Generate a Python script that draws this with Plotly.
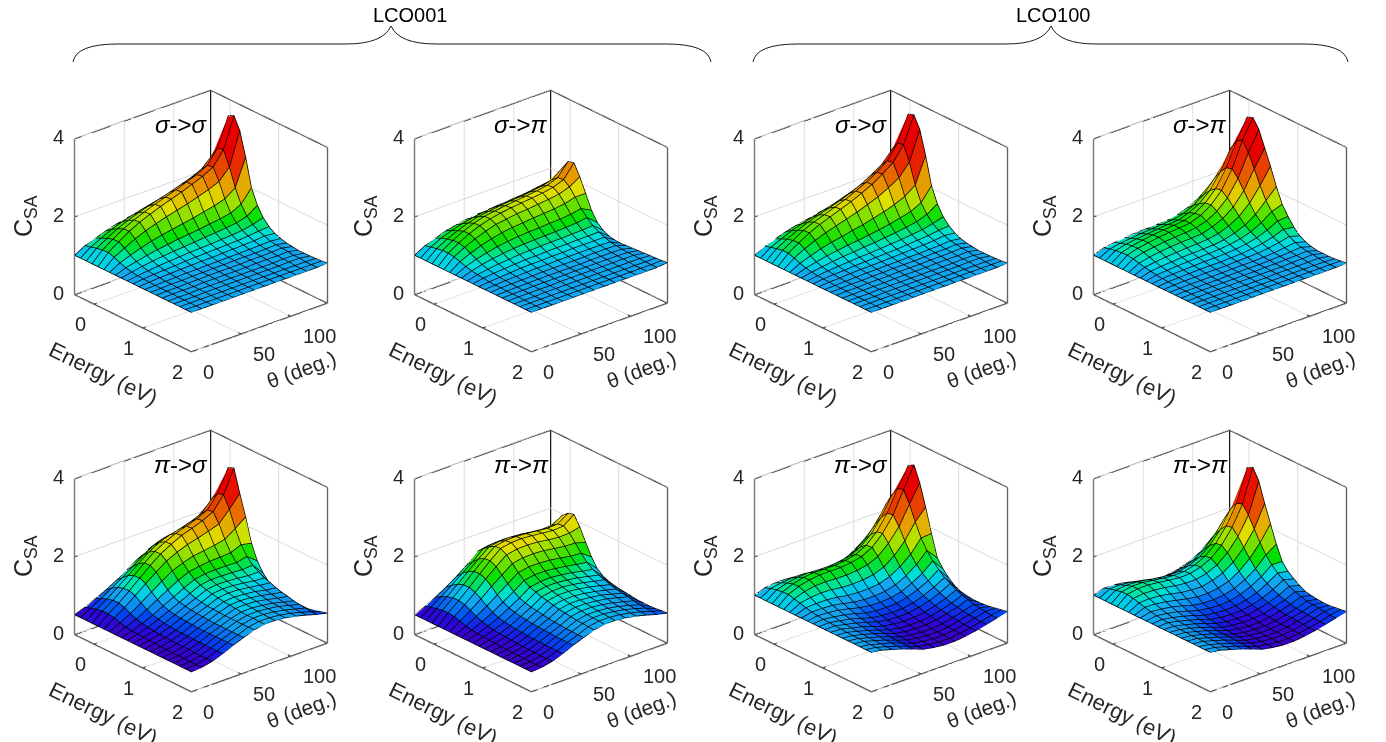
import plotly.graph_objects as go

W, H = 1386, 742
ENERGY = [-0.40,-0.28,-0.16,-0.04,0.08,0.20,0.32,0.44,0.56,0.68,0.80,0.92,1.04,1.16,1.28,1.40,1.52,1.64,1.76,1.88,2.00]
THETA = [0,10.5,21,31.6,42.2,52.7,63.2,73.8,84.3,94.8,105.4,116,126.5,137]
E_TICKS = [0,1,2]
T_TICKS = [0,50,100]
Z_TICKS = [0,2,4]

SS_001 = [
[1.0]*21,
[1.15,1.19,1.23,1.26,1.27,1.22,1.15,1.1,1.06,1.04,1.03,1.02,1.01,1.01,1.01,1.01,1,1,1,1,1],
[1.25,1.32,1.39,1.44,1.45,1.36,1.25,1.16,1.11,1.07,1.05,1.04,1.02,1.02,1.01,1.01,1,1,1,1,1],
[1.34,1.45,1.54,1.61,1.62,1.5,1.34,1.22,1.15,1.1,1.07,1.05,1.03,1.02,1.02,1.01,1.01,1.01,1,1,1],
[1.42,1.55,1.66,1.74,1.76,1.61,1.42,1.27,1.18,1.12,1.08,1.06,1.04,1.03,1.02,1.02,1.01,1.01,1,1,1],
[1.48,1.63,1.76,1.85,1.87,1.7,1.48,1.31,1.21,1.14,1.1,1.07,1.04,1.03,1.03,1.02,1.01,1.01,1,1,1],
[1.53,1.7,1.84,1.95,1.97,1.78,1.53,1.35,1.23,1.16,1.11,1.08,1.05,1.04,1.03,1.02,1.01,1.01,1,1,1],
[1.58,1.76,1.92,2.04,2.06,1.85,1.58,1.38,1.25,1.17,1.12,1.08,1.05,1.04,1.03,1.02,1.01,1.01,1,1,1],
[1.63,1.83,2.0,2.13,2.15,1.92,1.63,1.41,1.28,1.18,1.13,1.09,1.06,1.05,1.03,1.02,1.01,1.01,1,1,1],
[1.69,1.9,2.09,2.23,2.25,2.0,1.69,1.45,1.3,1.2,1.14,1.1,1.06,1.05,1.04,1.03,1.01,1.01,1,1,1],
[1.75,1.98,2.18,2.33,2.36,2.09,1.75,1.49,1.33,1.22,1.15,1.11,1.07,1.05,1.04,1.03,1.01,1.01,1,1,1],
[1.83,2.08,2.3,2.47,2.5,2.2,1.83,1.54,1.36,1.24,1.17,1.12,1.08,1.06,1.05,1.03,1.02,1.02,1,1,1],
[1.85,2.2,2.55,2.82,2.85,2.48,2.02,1.67,1.44,1.3,1.2,1.15,1.09,1.07,1.06,1.04,1.02,1.02,1,1,1],
[2.1,2.5,3.0,3.55,3.63,3.32,2.71,2.0,1.62,1.38,1.22,1.12,1.06,1.02,1.0,0.98,0.98,0.98,0.99,1.0,1.02],
]
SP_001 = [
[1.0]*21,
[1.15,1.19,1.22,1.25,1.25,1.23,1.18,1.13,1.09,1.07,1.05,1.03,1.02,1.02,1.01,1.01,1.01,1,1,1,1],
[1.25,1.32,1.37,1.41,1.42,1.38,1.3,1.22,1.16,1.11,1.08,1.05,1.04,1.03,1.02,1.01,1.01,1,1,1,1],
[1.34,1.42,1.49,1.55,1.56,1.5,1.4,1.29,1.21,1.15,1.1,1.07,1.05,1.03,1.02,1.02,1.01,1.01,1,1,1],
[1.4,1.5,1.59,1.66,1.67,1.6,1.48,1.35,1.25,1.17,1.12,1.09,1.06,1.04,1.03,1.02,1.01,1.01,1,1,1],
[1.45,1.56,1.66,1.74,1.75,1.68,1.54,1.39,1.28,1.2,1.14,1.1,1.07,1.05,1.03,1.02,1.02,1.01,1,1,1],
[1.48,1.6,1.7,1.78,1.8,1.72,1.58,1.42,1.3,1.21,1.14,1.1,1.07,1.05,1.03,1.02,1.02,1.01,1,1,1],
[1.5,1.63,1.74,1.82,1.84,1.76,1.6,1.44,1.31,1.22,1.15,1.11,1.08,1.05,1.03,1.03,1.02,1.01,1,1,1],
[1.52,1.65,1.77,1.85,1.87,1.78,1.63,1.45,1.32,1.23,1.16,1.11,1.08,1.05,1.03,1.03,1.02,1.01,1,1,1],
[1.54,1.68,1.79,1.88,1.9,1.81,1.65,1.47,1.33,1.23,1.16,1.12,1.08,1.05,1.04,1.03,1.02,1.01,1,1,1],
[1.56,1.7,1.82,1.91,1.93,1.84,1.67,1.48,1.34,1.24,1.17,1.12,1.08,1.06,1.04,1.03,1.02,1.01,1,1,1],
[1.59,1.74,1.86,1.96,1.98,1.88,1.71,1.51,1.36,1.25,1.17,1.12,1.08,1.06,1.04,1.03,1.02,1.01,1,1,1],
[1.6,1.78,1.93,2.06,2.08,1.97,1.78,1.56,1.4,1.27,1.18,1.12,1.07,1.05,1.03,1.02,1.02,1.01,1,1,1],
[1.55,1.8,2.14,2.38,2.42,2.13,1.78,1.42,1.18,1.05,0.98,0.95,0.94,0.95,0.96,0.97,0.98,0.99,1.0,1.01,1.03],
]
SS_100 = [
[1.0]*21,
[1.14,1.18,1.22,1.25,1.25,1.2,1.14,1.09,1.06,1.04,1.03,1.02,1.01,1.01,1.01,1,1,1,1,1,1],
[1.23,1.3,1.37,1.41,1.42,1.34,1.23,1.15,1.1,1.07,1.05,1.03,1.02,1.02,1.01,1.01,1,1,1,1,1],
[1.32,1.42,1.5,1.57,1.58,1.46,1.32,1.21,1.14,1.09,1.06,1.05,1.03,1.02,1.02,1.01,1.01,1.01,1,1,1],
[1.39,1.5,1.61,1.69,1.7,1.56,1.39,1.25,1.17,1.11,1.08,1.06,1.04,1.03,1.02,1.01,1.01,1.01,1,1,1],
[1.44,1.58,1.7,1.78,1.8,1.64,1.44,1.29,1.19,1.13,1.09,1.06,1.04,1.03,1.02,1.02,1.01,1.01,1,1,1],
[1.5,1.65,1.78,1.88,1.9,1.72,1.5,1.32,1.22,1.14,1.1,1.07,1.05,1.04,1.03,1.02,1.01,1.01,1,1,1],
[1.55,1.72,1.87,1.98,2.0,1.8,1.55,1.36,1.24,1.16,1.11,1.08,1.05,1.04,1.03,1.02,1.01,1.01,1,1,1],
[1.62,1.81,1.97,2.1,2.12,1.9,1.62,1.4,1.27,1.18,1.12,1.09,1.06,1.04,1.03,1.02,1.01,1.01,1,1,1],
[1.69,1.9,2.09,2.23,2.25,2.0,1.69,1.45,1.3,1.2,1.14,1.1,1.06,1.05,1.04,1.03,1.01,1.01,1,1,1],
[1.78,2.02,2.24,2.39,2.42,2.14,1.78,1.51,1.34,1.23,1.16,1.11,1.07,1.06,1.04,1.03,1.01,1.01,1,1,1],
[1.89,2.17,2.41,2.59,2.62,2.3,1.89,1.58,1.39,1.26,1.18,1.13,1.08,1.06,1.05,1.03,1.02,1.02,1,1,1],
[1.95,2.3,2.7,2.95,2.98,2.6,2.09,1.71,1.48,1.32,1.22,1.16,1.1,1.08,1.06,1.04,1.02,1.02,1,1,1],
[2.15,2.55,3.05,3.6,3.65,3.35,2.75,2.05,1.66,1.4,1.24,1.13,1.06,1.02,1,0.98,0.98,0.98,0.99,1,1.02],
]
SP_100 = [
[1.0]*21,
[1.1,1.14,1.17,1.19,1.2,1.18,1.14,1.11,1.08,1.06,1.04,1.03,1.02,1.01,1.01,1.01,1,1,1,1,1],
[1.14,1.19,1.24,1.27,1.28,1.25,1.2,1.15,1.11,1.08,1.06,1.04,1.03,1.02,1.01,1.01,1.01,1,1,1,1],
[1.17,1.22,1.28,1.32,1.33,1.29,1.24,1.18,1.13,1.1,1.07,1.05,1.03,1.02,1.01,1.01,1.01,1,1,1,1],
[1.19,1.25,1.31,1.36,1.37,1.33,1.27,1.2,1.15,1.11,1.08,1.06,1.04,1.02,1.01,1.01,1.01,1,1,1,1],
[1.2,1.27,1.34,1.39,1.4,1.35,1.29,1.22,1.16,1.12,1.09,1.06,1.04,1.02,1.02,1.01,1.01,1,1,1,1],
[1.21,1.29,1.36,1.41,1.42,1.37,1.3,1.23,1.17,1.13,1.09,1.06,1.04,1.03,1.02,1.01,1.01,1,1,1,1],
[1.23,1.31,1.38,1.44,1.45,1.4,1.32,1.25,1.18,1.14,1.1,1.07,1.05,1.03,1.02,1.01,1.01,1,1,1,1],
[1.28,1.37,1.47,1.53,1.55,1.48,1.4,1.3,1.22,1.17,1.12,1.08,1.06,1.03,1.02,1.02,1.01,1.01,1,1,1],
[1.36,1.49,1.61,1.7,1.72,1.63,1.52,1.4,1.29,1.22,1.16,1.11,1.07,1.04,1.03,1.02,1.01,1.01,1,1,1],
[1.5,1.68,1.85,1.97,2.0,1.88,1.72,1.55,1.4,1.3,1.22,1.15,1.1,1.06,1.04,1.03,1.02,1.01,1,1,1],
[1.72,1.99,2.23,2.41,2.45,2.28,2.04,1.8,1.58,1.44,1.32,1.22,1.15,1.09,1.06,1.04,1.03,1.01,1,1,1],
[1.9,2.35,2.75,3.0,3.1,2.85,2.51,2.15,1.84,1.63,1.46,1.32,1.21,1.13,1.08,1.05,1.04,1.02,1,1,1],
[2.0,2.5,3.0,3.52,3.58,3.35,2.95,2.55,2.1,1.72,1.48,1.28,1.13,1.05,1.0,0.97,0.97,0.97,0.98,1.0,1.02],
]
PS_001 = [
[0.5]*21,
[0.6,0.65,0.69,0.72,0.72,0.69,0.64,0.6,0.58,0.57,0.56,0.55,0.55,0.54,0.54,0.53,0.53,0.53,0.52,0.52,0.52],
[0.72,0.8,0.86,0.9,0.9,0.86,0.78,0.71,0.67,0.65,0.63,0.62,0.61,0.6,0.6,0.59,0.59,0.58,0.58,0.58,0.58],
[0.85,0.97,1.06,1.11,1.12,1.07,0.96,0.86,0.79,0.76,0.73,0.71,0.7,0.69,0.69,0.68,0.68,0.68,0.68,0.68,0.68],
[1.0,1.14,1.27,1.34,1.35,1.28,1.14,1.02,0.93,0.88,0.85,0.83,0.82,0.81,0.8,0.8,0.8,0.8,0.8,0.8,0.8],
[1.17,1.33,1.48,1.57,1.58,1.48,1.32,1.17,1.06,1.0,0.97,0.95,0.93,0.92,0.91,0.9,0.9,0.9,0.9,0.9,0.9],
[1.35,1.52,1.68,1.77,1.78,1.67,1.49,1.32,1.2,1.13,1.08,1.05,1.03,1.02,1.01,1,1,1,1,1,1],
[1.5,1.68,1.83,1.92,1.93,1.8,1.6,1.44,1.32,1.25,1.2,1.17,1.14,1.12,1.1,1.09,1.07,1.06,1.06,1.05,1.05],
[1.61,1.78,1.93,2.04,2.06,1.9,1.68,1.49,1.37,1.29,1.24,1.2,1.17,1.14,1.12,1.1,1.08,1.07,1.06,1.05,1.05],
[1.64,1.83,2.0,2.13,2.15,1.97,1.72,1.52,1.38,1.29,1.23,1.19,1.16,1.12,1.1,1.08,1.05,1.04,1.03,1.02,1.02],
[1.67,1.89,2.08,2.22,2.25,2.05,1.76,1.53,1.38,1.28,1.21,1.16,1.12,1.09,1.06,1.03,1.01,1.0,0.98,0.97,0.97],
[1.71,1.97,2.19,2.35,2.38,2.14,1.82,1.55,1.37,1.26,1.18,1.12,1.08,1.03,1.0,0.97,0.94,0.93,0.91,0.9,0.9],
[1.87,2.19,2.47,2.68,2.72,2.42,2.0,1.66,1.43,1.28,1.18,1.1,1.05,0.99,0.95,0.92,0.88,0.86,0.84,0.82,0.82],
[1.94,2.3,2.8,3.25,3.31,2.73,2.2,1.6,1.22,0.98,0.82,0.72,0.65,0.6,0.58,0.58,0.6,0.63,0.67,0.72,0.76],
]
PP_001 = [
[0.5]*21,
[0.62,0.67,0.71,0.74,0.75,0.72,0.68,0.63,0.6,0.58,0.57,0.56,0.55,0.54,0.54,0.53,0.53,0.53,0.52,0.52,0.52],
[0.76,0.85,0.92,0.96,0.97,0.93,0.86,0.78,0.72,0.68,0.65,0.63,0.62,0.61,0.6,0.59,0.59,0.58,0.58,0.58,0.58],
[0.92,1.04,1.14,1.2,1.21,1.15,1.06,0.95,0.86,0.8,0.76,0.74,0.72,0.71,0.7,0.69,0.69,0.68,0.68,0.68,0.68],
[1.1,1.25,1.37,1.45,1.46,1.4,1.28,1.14,1.03,0.95,0.91,0.88,0.86,0.84,0.83,0.82,0.81,0.8,0.8,0.8,0.8],
[1.3,1.45,1.6,1.68,1.7,1.62,1.48,1.33,1.2,1.11,1.06,1.02,1.0,0.97,0.95,0.93,0.92,0.91,0.91,0.9,0.9],
[1.55,1.69,1.81,1.9,1.92,1.83,1.68,1.52,1.39,1.29,1.24,1.19,1.16,1.12,1.09,1.07,1.05,1.03,1.02,1.01,1],
[1.6,1.74,1.86,1.95,1.97,1.88,1.73,1.57,1.44,1.34,1.29,1.24,1.21,1.17,1.14,1.12,1.1,1.08,1.07,1.06,1.05],
[1.61,1.75,1.87,1.96,1.98,1.89,1.74,1.57,1.44,1.35,1.29,1.25,1.21,1.17,1.14,1.12,1.1,1.08,1.07,1.06,1.05],
[1.58,1.73,1.85,1.94,1.96,1.87,1.72,1.55,1.41,1.32,1.26,1.22,1.18,1.14,1.11,1.09,1.07,1.05,1.04,1.03,1.02],
[1.55,1.69,1.81,1.91,1.93,1.83,1.68,1.51,1.37,1.28,1.22,1.17,1.13,1.09,1.07,1.05,1.02,1.0,0.99,0.98,0.97],
[1.5,1.65,1.78,1.88,1.9,1.8,1.64,1.46,1.32,1.22,1.16,1.11,1.07,1.03,1.0,0.98,0.95,0.93,0.92,0.91,0.9],
[1.48,1.65,1.79,1.9,1.92,1.81,1.63,1.44,1.28,1.17,1.1,1.05,1.0,0.96,0.93,0.91,0.88,0.85,0.84,0.83,0.82],
[1.48,1.68,1.95,2.08,2.12,1.87,1.55,1.25,1.02,0.9,0.84,0.8,0.78,0.76,0.74,0.72,0.72,0.72,0.73,0.75,0.76],
]
PS_100 = [
[1.0]*21,
[1.1,1.15,1.19,1.21,1.22,1.18,1.14,1.1,1.06,1.04,1.02,1.01,1,0.99,0.98,0.97,0.97,0.97,0.96,0.96,0.96],
[1.13,1.2,1.27,1.32,1.33,1.27,1.19,1.11,1.06,1.02,0.99,0.96,0.94,0.92,0.91,0.9,0.89,0.89,0.88,0.88,0.88],
[1.13,1.23,1.32,1.39,1.4,1.32,1.21,1.11,1.04,0.99,0.94,0.91,0.88,0.86,0.84,0.83,0.82,0.81,0.81,0.8,0.8],
[1.1,1.23,1.34,1.42,1.43,1.33,1.2,1.08,0.99,0.93,0.88,0.83,0.8,0.77,0.75,0.74,0.72,0.71,0.71,0.7,0.7],
[1.06,1.2,1.32,1.41,1.43,1.31,1.16,1.03,0.93,0.86,0.8,0.75,0.72,0.68,0.66,0.64,0.62,0.62,0.61,0.6,0.6],
[1.03,1.18,1.32,1.41,1.43,1.31,1.15,1.01,0.9,0.82,0.76,0.71,0.67,0.64,0.61,0.59,0.58,0.57,0.56,0.55,0.55],
[1.04,1.2,1.34,1.44,1.46,1.33,1.16,1.01,0.9,0.81,0.75,0.69,0.65,0.61,0.59,0.57,0.55,0.54,0.53,0.52,0.52],
[1.07,1.24,1.39,1.5,1.52,1.38,1.2,1.04,0.92,0.83,0.76,0.7,0.66,0.62,0.59,0.57,0.55,0.54,0.53,0.52,0.52],
[1.16,1.35,1.52,1.64,1.66,1.5,1.3,1.13,0.99,0.89,0.82,0.75,0.71,0.66,0.63,0.61,0.58,0.57,0.56,0.55,0.55],
[1.33,1.55,1.75,1.89,1.92,1.74,1.5,1.29,1.13,1.01,0.92,0.84,0.78,0.73,0.69,0.67,0.64,0.63,0.61,0.6,0.6],
[1.56,1.84,2.09,2.27,2.3,2.07,1.78,1.51,1.32,1.17,1.05,0.96,0.89,0.82,0.77,0.74,0.71,0.69,0.68,0.66,0.66],
[1.9,2.26,2.57,2.81,2.85,2.55,2.17,1.83,1.58,1.39,1.24,1.11,1.03,0.94,0.88,0.84,0.79,0.77,0.75,0.73,0.73],
[1.68,2.05,2.6,3.3,3.39,3.0,2.45,1.85,1.3,1.08,0.92,0.8,0.73,0.7,0.68,0.68,0.69,0.71,0.74,0.77,0.8],
]
PP_100 = [
[1.0]*21,
[1.09,1.14,1.18,1.21,1.22,1.19,1.15,1.11,1.07,1.04,1.02,1.01,0.99,0.98,0.98,0.97,0.97,0.97,0.96,0.96,0.96],
[1.08,1.15,1.21,1.26,1.27,1.22,1.16,1.1,1.04,1.0,0.97,0.95,0.93,0.92,0.9,0.9,0.89,0.89,0.88,0.88,0.88],
[1.04,1.12,1.2,1.26,1.27,1.21,1.14,1.06,1.0,0.95,0.91,0.88,0.86,0.84,0.83,0.82,0.81,0.81,0.8,0.8,0.8],
[0.97,1.07,1.16,1.22,1.24,1.18,1.09,1.0,0.93,0.87,0.83,0.8,0.77,0.75,0.73,0.72,0.72,0.71,0.71,0.7,0.7],
[0.9,1.01,1.11,1.18,1.2,1.13,1.03,0.94,0.85,0.79,0.74,0.71,0.68,0.65,0.64,0.62,0.62,0.61,0.61,0.6,0.6],
[0.86,0.97,1.08,1.15,1.17,1.1,1.0,0.9,0.81,0.75,0.7,0.66,0.63,0.61,0.59,0.57,0.57,0.56,0.56,0.55,0.55],
[0.85,0.97,1.08,1.16,1.18,1.1,0.99,0.89,0.8,0.73,0.68,0.64,0.61,0.58,0.56,0.55,0.54,0.53,0.53,0.52,0.52],
[0.89,1.02,1.14,1.23,1.25,1.16,1.05,0.93,0.83,0.75,0.7,0.65,0.61,0.59,0.56,0.55,0.54,0.53,0.53,0.52,0.52],
[0.97,1.11,1.26,1.36,1.38,1.28,1.15,1.01,0.9,0.82,0.75,0.7,0.66,0.62,0.6,0.58,0.57,0.57,0.56,0.55,0.55],
[1.11,1.29,1.47,1.59,1.62,1.5,1.33,1.17,1.03,0.93,0.84,0.78,0.73,0.69,0.66,0.64,0.63,0.62,0.61,0.6,0.6],
[1.32,1.56,1.78,1.94,1.98,1.82,1.61,1.4,1.21,1.08,0.98,0.9,0.83,0.78,0.74,0.71,0.7,0.69,0.67,0.66,0.66],
[1.6,1.92,2.22,2.43,2.48,2.27,1.99,1.71,1.47,1.29,1.15,1.05,0.96,0.89,0.84,0.8,0.78,0.77,0.75,0.73,0.73],
[1.6,1.95,2.55,3.25,3.33,3.05,2.55,2.1,1.65,1.28,1.1,0.98,0.88,0.8,0.77,0.75,0.74,0.74,0.76,0.78,0.8],
]

PANELS = [
 ("σ","σ",SS_001,0,0),("σ","π",SP_001,340,0),("σ","σ",SS_100,680,0),("σ","π",SP_100,1019,0),
 ("π","σ",PS_001,0,340),("π","π",PP_001,340,340),("π","σ",PS_100,680,340),("π","π",PP_100,1019,340),
]
COLOR_Z = [0.45,0.6,0.75,0.95,1.03,1.08,1.14,1.21,1.3,1.42,1.7,1.9,2.2,2.6,2.9,3.7]
COLORS = ["#4400b8","#2a08d8","#0048f0","#10a0f0","#14a8f0","#00c4ec","#00dce0","#00e4b0","#00e060","#00e000","#80e000","#e0e000","#e89000","#e83000","#e80000","#e80000"]
CMIN, CMAX = COLOR_Z[0], COLOR_Z[-1]
SCALE = [[(z-CMIN)/(CMAX-CMIN),c] for z,c in zip(COLOR_Z,COLORS)]

FONT="Liberation Sans"
INK="#262626"
def px(x,y): return x/W, 1-y/H
EMIN,EMAX=ENERGY[0],ENERGY[-1]; TMIN,TMAX=THETA[0],THETA[-1]; ZMIN,ZMAX=0,4

def segs(lst):
    xs,ys,zs=[],[],[]
    for a,b in lst:
        xs+=[a[0],b[0],None]; ys+=[a[1],b[1],None]; zs+=[a[2],b[2],None]
    return xs,ys,zs

fig=go.Figure()
layout={}
for n,(src,dst,Z,dx,dy) in enumerate(PANELS):
    sid="scene" if n==0 else f"scene{n+1}"
    nr,nc=len(THETA),len(ENERGY)
    X=[];Y=[];ZZ=[]
    for r in range(nr):
        for c in range(nc):
            X.append(ENERGY[c]);Y.append(THETA[r]);ZZ.append(Z[r][c])
    I=[];J=[];K=[];C=[]
    for r in range(nr-1):
        for c in range(nc-1):
            a=r*nc+c;b=a+1;d=a+nc;e=d+1
            m=(ZZ[a]+ZZ[b]+ZZ[d]+ZZ[e])/4
            I+=[a,a];J+=[b,e];K+=[e,d];C+=[m,m]
    fig.add_trace(go.Mesh3d(x=X,y=Y,z=ZZ,i=I,j=J,k=K,intensity=C,intensitymode="cell",
        colorscale=SCALE,cmin=CMIN,cmax=CMAX,showscale=False,flatshading=True,hoverinfo="skip",
        lighting=dict(ambient=1,diffuse=0,specular=0,roughness=1,fresnel=0),scene=sid))
    lx,ly,lz=[],[],[]
    for r in range(nr):
        lx+=ENERGY+[None];ly+=[THETA[r]]*nc+[None];lz+=[Z[r][c]+0.012 for c in range(nc)]+[None]
    for c in range(nc):
        lx+=[ENERGY[c]]*nr+[None];ly+=THETA+[None];lz+=[Z[r][c]+0.012 for r in range(nr)]+[None]
    fig.add_trace(go.Scatter3d(x=lx,y=ly,z=lz,mode="lines",line=dict(color="#000000",width=1.5),hoverinfo="skip",showlegend=False,scene=sid))
    s=[((EMIN,TMIN,ZMIN),(EMIN,TMIN,ZMAX)),((EMIN,TMAX,ZMIN),(EMIN,TMAX,ZMAX)),((EMAX,TMAX,ZMIN),(EMAX,TMAX,ZMAX)),
       ((EMIN,TMIN,ZMAX),(EMIN,TMAX,ZMAX)),((EMIN,TMAX,ZMAX),(EMAX,TMAX,ZMAX)),
       ((EMIN,TMIN,ZMIN),(EMAX,TMIN,ZMIN)),((EMAX,TMIN,ZMIN),(EMAX,TMAX,ZMIN)),((EMIN,TMIN,ZMIN),(EMIN,TMAX,ZMIN)),((EMIN,TMAX,ZMIN),(EMAX,TMAX,ZMIN))]
    for t in Z_TICKS: s.append(((EMIN,TMIN,t),(EMIN,TMIN+3,t)))
    for t in E_TICKS: s.append(((t,TMIN,ZMIN),(t,TMIN+3,ZMIN)))
    for t in T_TICKS: s.append(((EMAX,t,ZMIN),(EMAX-0.06,t,ZMIN)))
    a,b,c=segs(s)
    fig.add_trace(go.Scatter3d(x=a,y=b,z=c,mode="lines",line=dict(color="#1a1a1a",width=2.5),hoverinfo="skip",showlegend=False,scene=sid))
    ann=[]
    f=dict(family=FONT,size=20,color=INK)
    for t in Z_TICKS: ann.append(dict(x=EMIN,y=TMIN,z=t,text=str(t),showarrow=False,font=f,xanchor="right",yanchor="middle",xshift=-9,yshift=2))
    for t in E_TICKS: ann.append(dict(x=t,y=TMIN,z=ZMIN,text=str(t),showarrow=False,font=f,xanchor="center",yanchor="middle",xshift=-14,yshift=-20))
    for t in T_TICKS: ann.append(dict(x=EMAX,y=t,z=ZMIN,text=str(t),showarrow=False,font=f,xanchor="left",yanchor="middle",xshift=10,yshift=-20))
    x0,y1=px(201+dx-165,221+dy-165); x1,y0=px(201+dx+165,221+dy+165)
    ax=lambda vals,rng:dict(range=rng,tickvals=vals,showticklabels=False,title=dict(text=""),showgrid=True,gridcolor="#d8d8d8",gridwidth=2,
        zeroline=False,showline=False,showbackground=False,showspikes=False,ticks="")
    layout[sid]=dict(domain=dict(x=[x0,x1],y=[y0,y1]),xaxis=ax(E_TICKS,[EMIN,EMAX]),yaxis=ax(T_TICKS,[TMIN,TMAX]),zaxis=ax(Z_TICKS,[ZMIN,ZMAX]),
        aspectmode="manual",aspectratio=dict(x=1.09,y=1.085,z=1.04),annotations=ann,
        camera=dict(projection=dict(type="orthographic"),up=dict(x=0,y=0,z=1),center=dict(x=0,y=0,z=0),eye=dict(x=1.255,y=-1.073,z=0.76)))

paper=[]
for (src,dst,Z,dx,dy) in PANELS:
    def T(x,y,text,size,angle=0,color=INK):
        fx,fy=px(x+dx,y+dy)
        paper.append(dict(xref="paper",yref="paper",x=fx,y=fy,text=text,showarrow=False,textangle=angle,xanchor="center",yanchor="middle",font=dict(family=FONT,size=size,color=color)))
    T(25,216,"C<sub>SA</sub>",25,-90)
    T(103,373,"Energy (eV)",22,26)
    T(301,369,"θ (deg.)",21,-20)
    T(181,124,f"<i>{src}</i>->{'<i>'+dst+'</i>'}",24,0,"#000000")
for x,t in [(410,"LCO001"),(1053,"LCO100")]:
    fx,fy=px(x,15)
    paper.append(dict(xref="paper",yref="paper",x=fx,y=fy,text=t,showarrow=False,xanchor="center",yanchor="middle",font=dict(family=FONT,size=20,color="#000000")))
def brace(l,m,r):
    p=lambda x,y:"%f,%f"%px(x,y)
    return ("M"+p(l,62)+" Q"+p(l+3,44)+" "+p(l+45,44)+" L"+p(m-45,44)+" Q"+p(m-8,44)+" "+p(m,26)
            +" Q"+p(m+8,44)+" "+p(m+45,44)+" L"+p(r-45,44)+" Q"+p(r-3,44)+" "+p(r,62))
shapes=[dict(type="path",xref="paper",yref="paper",path=brace(l,m,r),line=dict(color="#1a1a1a",width=1)) for l,m,r in [(73,391,711),(753,1051,1348)]]
fig.update_layout(width=W,height=H,margin=dict(l=0,r=0,t=0,b=0),paper_bgcolor="white",showlegend=False,annotations=paper,shapes=shapes,**layout)
fig.write_html("out.html",config={"displayModeBar":False},post_script="document.body.style.margin='0';")
